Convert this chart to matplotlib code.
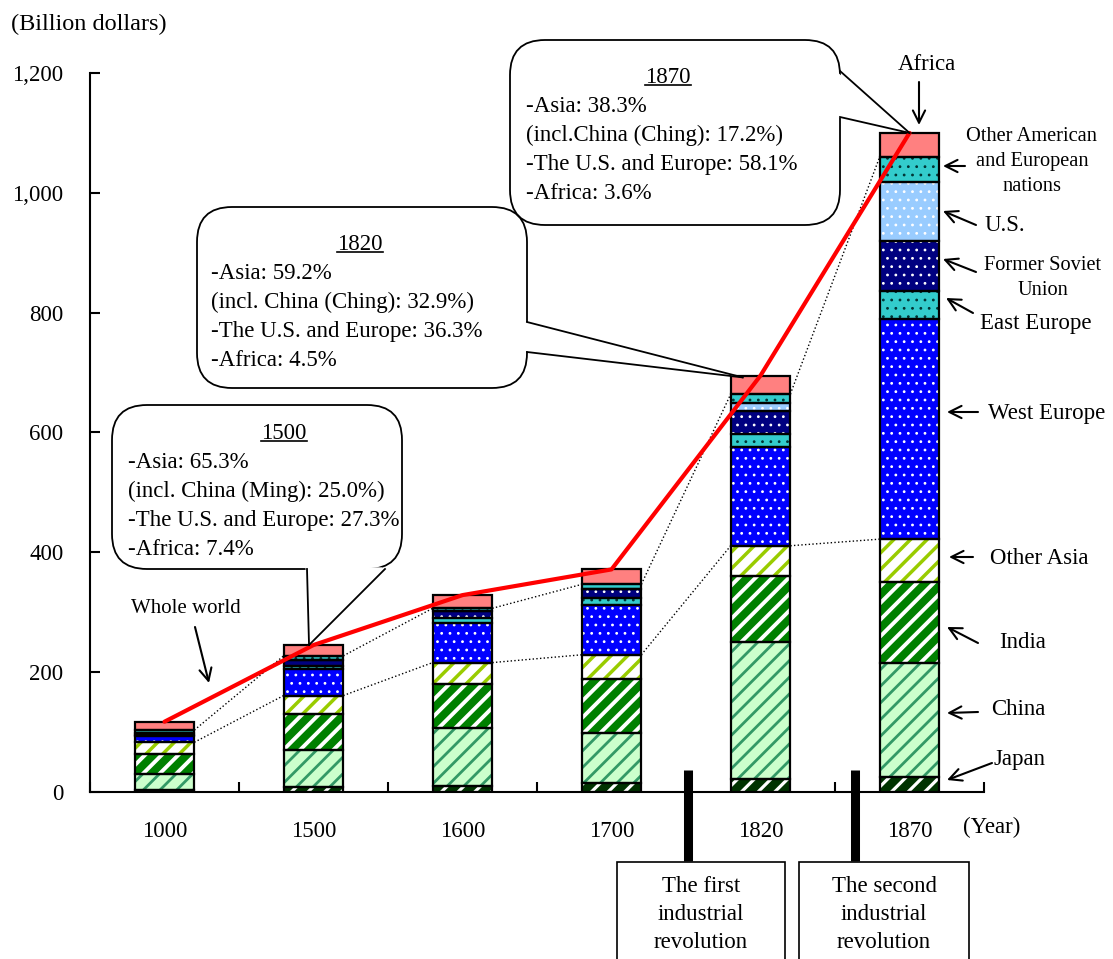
import matplotlib
matplotlib.use('Agg')
import matplotlib.pyplot as plt
from matplotlib.patches import FancyBboxPatch, Polygon, Rectangle
from matplotlib.lines import Line2D
from matplotlib.transforms import Affine2D
import numpy as np

plt.rcParams['font.family'] = ['Liberation Serif', 'DejaVu Serif']

W, H = 1113, 959

# GDP by region, billion dollars
years = ['1000', '1500', '1600', '1700', '1820', '1870']
japan = [3, 8, 10, 15, 21, 25]
china = [27, 62, 96, 83, 229, 190]
india = [34, 60, 74, 91, 111, 135]
other_asia = [19, 31, 36, 40, 50, 72]
west_europe = [10, 44, 66, 83, 164, 368]
east_europe = [2, 6, 9, 11, 23, 46]
former_ussr = [3, 8.5, 11, 16, 38, 84]
us = [0.8, 0.8, 0.6, 0.5, 13, 98]
other_am_eu = [4.5, 7, 4, 7, 15, 42]
africa = [14, 18, 22, 25, 31, 40]

# name, values, face colour, hatch, hatch colour, hatch linewidth
layers = [
    ('Japan', japan, '#003300', '//', 'white', 2.3),
    ('China', china, '#ccffcc', '//', '#339966', 2.0),
    ('India', india, '#008000', '//', 'white', 2.8),
    ('Other Asia', other_asia, 'white', '//', '#99cc00', 2.5),
    ('West Europe', west_europe, '#0000ff', '..', 'white', 0.8),
    ('East Europe', east_europe, '#33cccc', '..', '#003333', 0.8),
    ('Former Soviet Union', former_ussr, '#000080', '..', 'white', 0.8),
    ('U.S.', us, '#99ccff', '..', 'white', 0.8),
    ('Other American and European nations', other_am_eu, '#33cccc', '..', '#003333', 0.8),
    ('Africa', africa, '#ff8080', None, None, 0),
]

fig = plt.figure(figsize=(W / 100, H / 100), dpi=100)
pix = Affine2D().scale(1 / W, -1 / H).translate(0, 1) + fig.transFigure
ax = fig.add_axes([90 / W, (H - 792) / H, 894 / W, 719 / H])


def with_hatch_lw(orig_draw, lw):
    # hatch linewidth is global, so switch it while this patch draws
    def draw(renderer):
        with plt.rc_context({'hatch.linewidth': lw}):
            orig_draw(renderer)
    return draw


x = np.arange(len(years))
bottom = np.zeros(len(years))
for name, vals, face, hatch, hcol, hlw in layers:
    vals = np.array(vals, float)
    ax.bar(x, vals, 0.4, bottom, color=face, lw=0, zorder=2)
    if hatch:
        with plt.rc_context({'hatch.linewidth': hlw}):
            bars = ax.bar(x, vals, 0.4, bottom, color='none', edgecolor=hcol,
                          hatch=hatch, lw=0, zorder=2.1)
        for b in bars:
            b.draw = with_hatch_lw(b.draw, hlw)
    ax.bar(x, vals, 0.4, bottom, fill=False, edgecolor='black', lw=1.6, zorder=2.2)
    bottom += vals

total = bottom.copy()
asia = np.array(japan) + np.array(china) + np.array(india) + np.array(other_asia)
no_africa = total - np.array(africa)

# dotted connectors between bars
for i in range(len(years) - 1):
    ax.plot([i + 0.2, i + 0.8], [asia[i], asia[i + 1]], color='black', ls=':', lw=1, zorder=3)
    ax.plot([i + 0.2, i + 0.8], [no_africa[i], no_africa[i + 1]], color='black', ls=':', lw=1, zorder=3)

# whole world line
ax.plot(x, total, color='red', lw=3, zorder=4, solid_capstyle='round')

ax.set_xlim(-0.5, 5.5)
ax.set_ylim(0, 1200)
ax.set_yticks(range(0, 1201, 200))
ax.set_yticklabels([f'{v:,}' for v in range(0, 1201, 200)])
ax.set_xticks(np.arange(-0.5, 5.6, 1))
ax.set_xticklabels([])
ax.set_xticks(x, minor=True)
ax.set_xticklabels(years, minor=True)
ax.tick_params(axis='x', which='major', direction='in', length=7, width=1.5)
ax.tick_params(axis='x', which='minor', length=0, pad=21, labelsize=16.5)
ax.tick_params(axis='y', direction='in', length=7, width=1.5, pad=19, labelsize=16.5)
for s in ['top', 'right']:
    ax.spines[s].set_visible(False)
for s in ['left', 'bottom']:
    ax.spines[s].set_linewidth(1.5)
ax.set_facecolor('none')


def d2p(xd, yd):
    dx, dy = ax.transData.transform((xd, yd))
    return dx * W / fig.bbox.width, H - dy * H / fig.bbox.height


def label(xp, yp, s, size=16.5, ha='left', va='baseline'):
    fig.text(xp, yp, s, transform=pix, fontsize=size, ha=ha, va=va)


def arrow(x0, y0, x1, y1):
    ax.annotate('', xy=(x1, y1), xytext=(x0, y0), xycoords=pix, textcoords=pix,
                arrowprops=dict(arrowstyle='->', lw=1.5, color='black',
                                mutation_scale=22, shrinkA=0, shrinkB=0),
                annotation_clip=False)


def callout(x0, y0, x1, y1, b1, b2, tip, title, lines, tx, ty, titlex, r=35):
    box = FancyBboxPatch((x0, y0), x1 - x0, y1 - y0,
                         boxstyle=f'round,pad=0,rounding_size={r}',
                         transform=pix, fc='white', ec='black', lw=1.3, zorder=5)
    fig.add_artist(box)
    cx, cy = (x0 + x1) / 2, (y0 + y1) / 2
    inner = []
    for bx, by in (b1, b2):
        vx, vy = cx - bx, cy - by
        n = np.hypot(vx, vy)
        inner.append((bx + 3 * vx / n, by + 3 * vy / n))
    fig.add_artist(Polygon([inner[0], tip, inner[1]], closed=True, transform=pix,
                           fc='white', ec='none', zorder=5.1))
    for bx, by in (b1, b2):
        fig.add_artist(Line2D([bx, tip[0]], [by, tip[1]], transform=pix,
                              color='black', lw=1.3, zorder=5.2))
    fig.text(titlex, ty, title, transform=pix, fontsize=16.5, ha='center',
             va='baseline', zorder=6)
    fig.add_artist(Line2D([titlex - 23, titlex + 23], [ty + 2, ty + 2], transform=pix,
                          color='black', lw=1.2, zorder=6))
    for k, s in enumerate(lines):
        fig.text(tx, ty + 29 * (k + 1), s, transform=pix, fontsize=16.5,
                 ha='left', va='baseline', zorder=6)


tip1500 = d2p(0.97, total[1])
tip1820 = d2p(3.88, total[4] - 3)
tip1870 = d2p(5.0, total[5])

callout(112, 405, 402, 569, (307, 569), (385, 569), tip1500, '1500',
        ['-Asia: 65.3%', '(incl. China (Ming): 25.0%)',
         '-The U.S. and Europe: 27.3%', '-Africa: 7.4%'], 128, 439, 284)
callout(197, 207, 527, 388, (527, 322), (527, 352), tip1820, '1820',
        ['-Asia: 59.2%', '(incl. China (Ching): 32.9%)',
         '-The U.S. and Europe: 36.3%', '-Africa: 4.5%'], 211, 250, 360)
callout(510, 40, 840, 225, (840, 71), (840, 117), tip1870, '1870',
        ['-Asia: 38.3%', '(incl.China (Ching): 17.2%)',
         '-The U.S. and Europe: 58.1%', '-Africa: 3.6%'], 526, 83, 668)

# axis captions
label(11, 30, '(Billion dollars)', size=17.5)
label(992, 833, '(Year)', ha='center')

# region labels on the right
label(927, 70, 'Africa', ha='center')
arrow(919, 82, 919, 125)
for k, s in enumerate(['Other American', 'and European', 'nations']):
    label(1032, 141 + 25 * k, s, size=14.7, ha='center')
arrow(965, 166, 943, 166)
label(1005, 231, 'U.S.', ha='center')
arrow(976, 225, 943, 211)
label(1043, 270, 'Former Soviet', size=14.7, ha='center')
label(1043, 295, 'Union', size=14.7, ha='center')
arrow(976, 272, 943, 259)
label(1036, 329, 'East Europe', ha='center')
arrow(973, 313, 946, 298)
label(1047, 419, 'West Europe', ha='center')
arrow(978, 412, 947, 412)
label(1039, 564, 'Other Asia', ha='center')
arrow(973, 557, 949, 557)
label(1023, 648, 'India', ha='center')
arrow(978, 643, 947, 627)
label(1018, 715, 'China', ha='center')
arrow(978, 712, 947, 713)
label(1020, 765, 'Japan', ha='center')
arrow(992, 763, 947, 780)
label(186, 613, 'Whole world', size=15, ha='center')
arrow(195, 627, 209, 683)

# industrial revolution markers
for xc, x0, x1, txt in [(687.5, 617, 785, ['The first', 'industrial', 'revolution']),
                        (855, 799, 969, ['The second', 'industrial', 'revolution'])]:
    fig.add_artist(Line2D([xc, xc], [770, 861], transform=pix, color='black',
                          lw=6.5, solid_capstyle='butt', zorder=5))
    fig.add_artist(Rectangle((x0, 862), x1 - x0, 110, transform=pix, fc='white',
                             ec='black', lw=1.2, zorder=5))
    for k, s in enumerate(txt):
        fig.text((x0 + x1) / 2, 892 + 28 * k, s, transform=pix, fontsize=16.5,
                 ha='center', va='baseline', zorder=6)

fig.savefig('out.png', dpi=100)
